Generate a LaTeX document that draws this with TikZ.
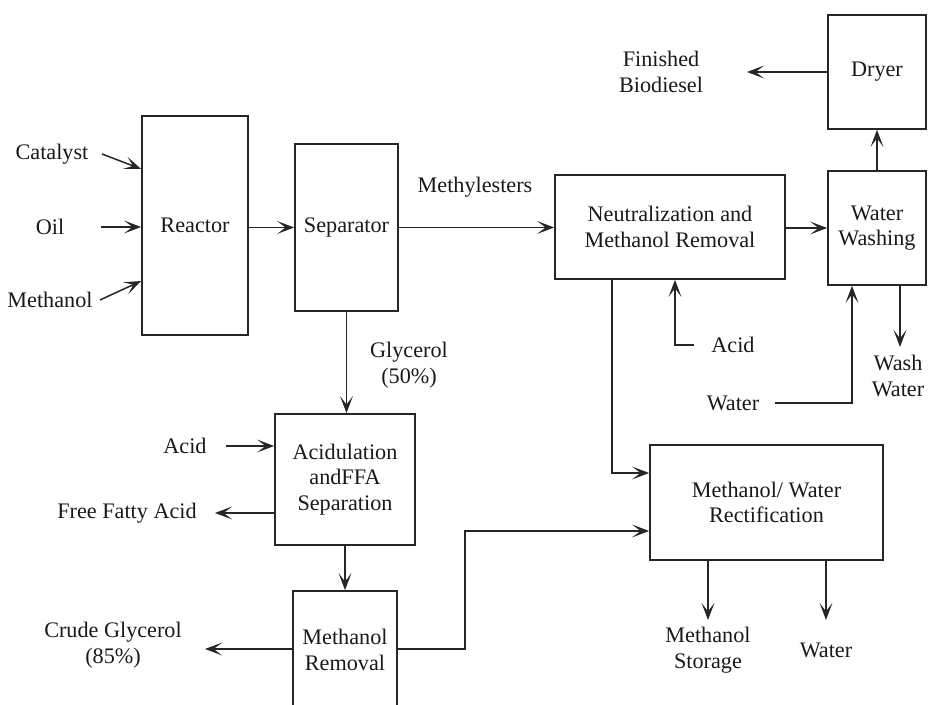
\documentclass[tikz,border=0pt]{standalone}
\usepackage{fontspec}
\setmainfont{Liberation Serif}
\usetikzlibrary{arrows.meta,positioning}
\tikzset{
  blk/.style={draw=black!85,line width=.85pt,align=center,inner sep=0pt,
    font=\fontsize{11.1}{12.8}\selectfont,text=black!90},
  lb/.style={align=center,inner sep=0pt,font=\fontsize{11.1}{12.8}\selectfont,text=black!90},
  flw/.style={-{Stealth[length=8.5pt,width=6.4pt,inset=4.2pt]},line width=.75pt,draw=black!85},
}

\begin{document}
\begin{tikzpicture}[x=.5pt,y=-.5pt]
\useasboundingbox (0,0) rectangle (928,705);
\clip (0,0) rectangle (928,705);
% ---- process units
\node[blk,minimum width=53pt,minimum height=109.5pt] (reac) at (195,225.5) {Reactor};
\node[blk,minimum width=51.5pt,minimum height=83.5pt] (sep) at (346.5,227.5) {Separator};
\node[blk,minimum width=115pt,minimum height=52pt] (neut) at (670,227)
  {Neutralization and\\Methanol Removal};
\node[blk,minimum width=49pt,minimum height=57pt] (wash) at (877,228) {Water\\Washing};
\node[blk,minimum width=49pt,minimum height=57pt] (dryer) at (877,72) {Dryer};
\node[blk,minimum width=70pt,minimum height=65.5pt] (acd) at (345,479.5)
  {Acidulation\\andFFA\\Separation};
\node[blk,minimum width=52pt,minimum height=59pt] (mrem) at (345,650) {Methanol\\Removal};
\node[blk,minimum width=116.5pt,minimum height=57.5pt] (rect) at (766.5,502.5)
  {Methanol/ Water\\Rectification};
% ---- streams in and out
\node[lb] (cat) at (52,154) {Catalyst};
\node[lb] (oil) at (50,227) {Oil};
\node[lb] (meth) at (50,300) {Methanol};
\node[lb] (mest) at (475,187) {Methylesters};
\node[lb] (gly) at (409,365) {Glycerol\\(50\%)};
\node[lb] (acl) at (185,446) {Acid};
\node[lb] (ffa) at (127,513) {Free Fatty Acid};
\node[lb] (crude) at (113,645) {Crude Glycerol\\(85\%)};
\node[lb] (fin) at (661,72) {Finished\\Biodiesel};
\node[lb] (acr) at (733,345) {Acid};
\node[lb] (wtr) at (733,403) {Water};
\node[lb] (wwt) at (898,376) {Wash\\Water};
\node[lb] (mst) at (708,650) {Methanol\\Storage};
\node[lb] (rwt) at (826,650) {Water};
% ---- free ends and bends
\coordinate (catS) at (102,154);
\coordinate (oilS) at (101,227);
\coordinate (metS) at (100,300);
\coordinate (finE) at (747,72);
\coordinate (acLS) at (226,446);
\coordinate (ffaE) at (215,513);
\coordinate (crE) at (205,649);
\coordinate (rcIn) at (465,531);
\coordinate (nDn) at (612,473);
\coordinate (acRS) at (694,345); \coordinate (acRk) at (675,345);
\coordinate (wtS) at (775,403); \coordinate (wtK) at (852,403);
\coordinate (wwE) at (900,347);
\coordinate (msE) at (708,620);
\coordinate (rwE) at (826,620);
% ---- main line
\draw[flw] (catS) -- ([yshift=28.25pt]reac.west);
\draw[flw] (oilS) -- (oilS -| reac.west);
\draw[flw] (metS) -- ([yshift=-27.75pt]reac.west);
\draw[flw] (reac.east |- sep.west) -- (sep.west);
\draw[flw] (sep.east) -- (sep.east -| neut.west);
\draw[flw] (neut.east |- wash.west) -- (wash.west);
\draw[flw] (wash.north) -- (dryer.south);
\draw[flw] (dryer.west) -- (finE);
% ---- glycerol side
\draw[flw] (sep.south) -- (sep.south |- acd.north);
\draw[flw] (acLS) -- (acLS -| acd.west);
\draw[flw] (ffaE -| acd.west) -- (ffaE);
\draw[flw] (acd.south) -- (mrem.north);
\draw[flw] (crE -| mrem.west) -- (crE);
\draw[flw] (crE -| mrem.east) -- (crE -| rcIn) -- (rcIn) -- (rcIn -| rect.west);
% ---- methanol recovery and washing
\draw[flw] (nDn |- neut.south) -- (nDn) -- (nDn -| rect.west);
\draw[flw] (acRS) -- (acRk) -- (acRk |- neut.south);
\draw[flw] (wtS) -- (wtK) -- (wtK |- wash.south);
\draw[flw] (wwE |- wash.south) -- (wwE);
\draw[flw] (msE |- rect.south) -- (msE);
\draw[flw] (rwE |- rect.south) -- (rwE);
\end{tikzpicture}
\end{document}
